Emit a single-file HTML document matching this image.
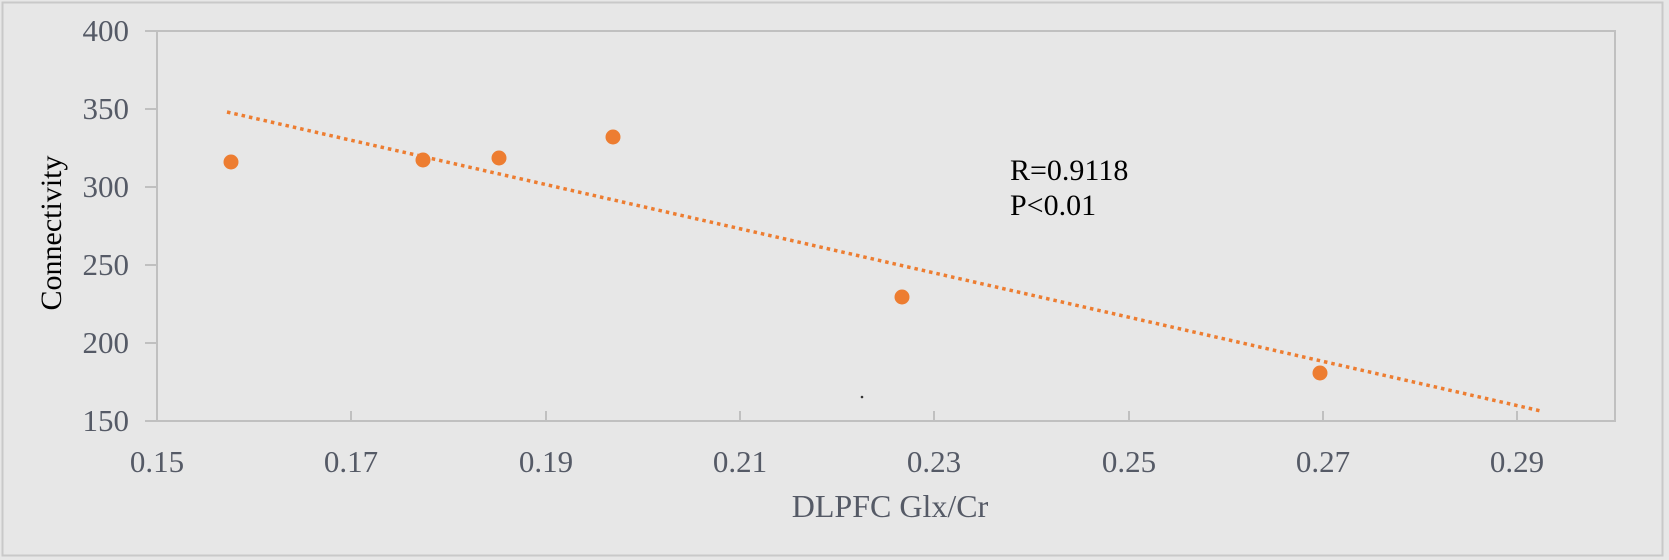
<!DOCTYPE html>
<html><head><meta charset="utf-8"><style>
html,body{margin:0;padding:0;background:#e7e7e7;}
svg{display:block;}
</style></head><body>
<svg width="1669" height="560" xmlns="http://www.w3.org/2000/svg">
<rect x="0" y="0" width="1669" height="560" fill="#e7e7e7"/>
<rect x="2.5" y="2.5" width="1660" height="553" fill="#e7e7e7" stroke="#c9c9c9" stroke-width="2"/>
<rect x="157" y="31" width="1458" height="390" fill="none" stroke="#c0c0c0" stroke-width="2"/>
<g stroke="#c0c0c0" stroke-width="2">
<line x1="145" y1="31" x2="157" y2="31"/>
<line x1="145" y1="109" x2="157" y2="109"/>
<line x1="145" y1="187" x2="157" y2="187"/>
<line x1="145" y1="265" x2="157" y2="265"/>
<line x1="145" y1="343" x2="157" y2="343"/>
<line x1="145" y1="421" x2="157" y2="421"/>
<line x1="351" y1="411" x2="351" y2="421"/>
<line x1="546" y1="411" x2="546" y2="421"/>
<line x1="740" y1="411" x2="740" y2="421"/>
<line x1="934" y1="411" x2="934" y2="421"/>
<line x1="1129" y1="411" x2="1129" y2="421"/>
<line x1="1323" y1="411" x2="1323" y2="421"/>
<line x1="1517" y1="411" x2="1517" y2="421"/>
</g>
<g font-family="Liberation Serif, serif" font-size="31" fill="#555a66" text-anchor="end">
<text x="129" y="41">400</text>
<text x="129" y="119">350</text>
<text x="129" y="197">300</text>
<text x="129" y="275">250</text>
<text x="129" y="353">200</text>
<text x="129" y="431">150</text>
</g>
<g font-family="Liberation Serif, serif" font-size="31" fill="#555a66" text-anchor="middle">
<text x="157" y="472">0.15</text>
<text x="351" y="472">0.17</text>
<text x="546" y="472">0.19</text>
<text x="740" y="472">0.21</text>
<text x="934" y="472">0.23</text>
<text x="1129" y="472">0.25</text>
<text x="1323" y="472">0.27</text>
<text x="1517" y="472">0.29</text>
</g>
<text x="890" y="517" font-family="Liberation Serif, serif" font-size="32" fill="#555a66" text-anchor="middle">DLPFC Glx/Cr</text>
<text transform="translate(61,233) rotate(-90)" font-family="Liberation Serif, serif" font-size="30" fill="#000" text-anchor="middle">Connectivity</text>
<line x1="227" y1="112" x2="1541" y2="411" stroke="#ed7d31" stroke-width="3.5" stroke-dasharray="3.5 4"/>
<g fill="#ed7d31">
<circle cx="231" cy="162" r="7.5"/>
<circle cx="423" cy="160" r="7.5"/>
<circle cx="499" cy="158" r="7.5"/>
<circle cx="613" cy="137" r="7.5"/>
<circle cx="902" cy="297" r="7.5"/>
<circle cx="1320" cy="373" r="7.5"/>
</g>
<circle cx="862" cy="397" r="1.3" fill="#333"/>
<g font-family="Liberation Serif, serif" font-size="30" fill="#000">
<text x="1010" y="180">R=0.9118</text>
<text x="1010" y="215">P&lt;0.01</text>
</g>
</svg>
</body></html>
